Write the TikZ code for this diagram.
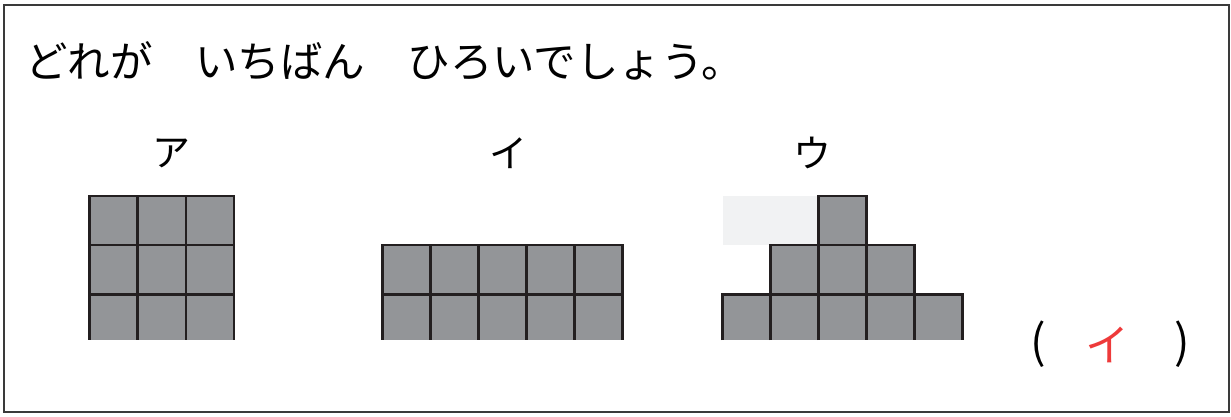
\documentclass[tikz,border=0pt]{standalone}
\usepackage{fontspec}
\newfontfamily\jp{Noto Sans CJK JP}
\definecolor{cellgrey}{HTML}{939598}
\definecolor{cellline}{HTML}{231F20}
\definecolor{ghost}{HTML}{F1F2F3}
\definecolor{framec}{HTML}{3A3A3A}
\definecolor{ansred}{HTML}{EE3A3A}
\tikzset{
  cell/.style={fill=cellgrey,draw=none},
  gridline/.style={draw=cellline,line width=2.6pt,line cap=butt},
  lbl/.style={font=\jp\fontsize{38}{38}\selectfont,inner sep=0pt,anchor=center},
  paren/.style={font=\jp\fontsize{46}{46}\selectfont,inner sep=0pt,anchor=center},
}
\begin{document}
\begin{tikzpicture}[x=1pt,y=-1pt]
\useasboundingbox (0,0) rectangle (1231,416);
\draw[draw=framec,line width=2pt] (4,5) rectangle (1229,412);
\node[font=\jp\fontsize{42.5}{42.5}\selectfont,inner sep=0pt,anchor=base west] (title) at (25,77) {どれが　いちばん　ひろいでしょう。};
% labels
\node[lbl] (la) at (171,153) {ア};
\node[lbl] (li) at (508,153) {イ};
\node[lbl] (lu) at (812,153) {ウ};
% ア grid 3x3
\fill[cellgrey] (89.5,196) rectangle (234,340);
\foreach \y in {196,245,294.5} \draw[gridline] (88.2,\y) -- (235.3,\y);
\foreach \x in {89.5,137.7,186,234} \draw[gridline] (\x,196) -- (\x,340);
% イ grid 5x2
\fill[cellgrey] (382.7,245) rectangle (622.7,340);
\foreach \y in {245,294.5} \draw[gridline] (381.4,\y) -- (624,\y);
\foreach \x in {382.7,430.7,478.7,526.7,574.7,622.7} \draw[gridline] (\x,245) -- (\x,340);
% ウ
\fill[ghost] (722.7,196) rectangle (818.7,245);
\fill[cellgrey] (818.7,196) rectangle (866.7,245);
\fill[cellgrey] (770.7,245) rectangle (914.7,294.5);
\fill[cellgrey] (722.7,294.5) rectangle (962.7,340);
\draw[gridline] (818.7,340) -- (818.7,196) -- (866.7,196) -- (866.7,340);
\draw[gridline] (770.7,340) -- (770.7,245) -- (914.7,245) -- (914.7,340);
\draw[gridline] (722.7,340) -- (722.7,294.5) -- (962.7,294.5) -- (962.7,340);
% answer
\node[paren] (lp) at (1038,344) {(};
\node[paren] (rp) at (1182,344) {)};
\node[lbl,font=\jp\fontsize{44}{44}\selectfont,text=ansred] (ans) at (1107,345) {イ};
\end{tikzpicture}
\end{document}
